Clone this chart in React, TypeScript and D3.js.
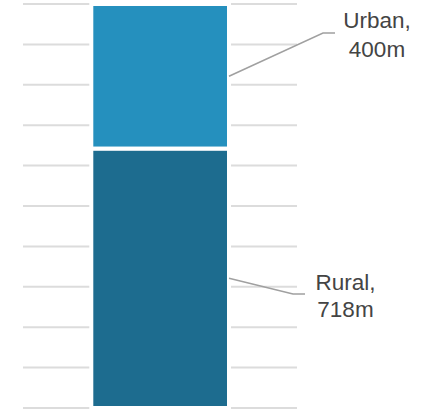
import React from "react";
import * as d3 from "d3";

const categories = ["Rural", "Urban"];
const values = [718, 400];
const valueLabels = ["718m", "400m"];
const gridDivisions = 10;

const W = 429;
const H = 417;

export default function App() {
  const total = d3.sum(values);
  const y = d3.scaleLinear().domain([0, total]).range([408, 4]);
  const x0 = 91.3;
  const x1 = 229;
  const stacked = values.map((v, i) => {
    const start = d3.sum(values.slice(0, i));
    return { cat: categories[i], v, start, end: start + v, label: valueLabels[i] };
  });
  const colors = ["#1d6c8f", "#2590be"];
  const grid = d3.range(gridDivisions + 1).map((i) => (total * i) / gridDivisions);
  const labelLayout = [
    { ex: 293, ey: 294, hx: 305, tx: 345.5, b1: 290, b2: 317 },
    { ex: 323, ey: 33, hx: 335, tx: 377, b1: 28, b2: 57 },
  ];
  return (
    <svg
      width={W}
      height={H}
      style={{ position: "absolute", left: 0, top: 0 }}
      fontFamily="'Liberation Sans', Arial, sans-serif"
    >
      <rect width={W} height={H} fill="#fff" />
      {grid.map((g, i) => (
        <line key={i} x1={23} x2={297} y1={y(g)} y2={y(g)} stroke="#dcdcdc" strokeWidth={2} />
      ))}
      {stacked.map((s, i) => (
        <rect
          key={s.cat}
          x={x0}
          width={x1 - x0}
          y={y(s.end)}
          height={y(s.start) - y(s.end)}
          fill={colors[i]}
          stroke="#fff"
          strokeWidth={4}
        />
      ))}
      {stacked.map((s, i) => {
        const L = labelLayout[i];
        const my = y((s.start + s.end) / 2);
        return (
          <g key={s.cat}>
            <polyline
              points={`${x1},${my} ${L.ex},${L.ey} ${L.hx},${L.ey}`}
              fill="none"
              stroke="#a0a0a0"
              strokeWidth={1.5}
            />
            <text x={L.tx} y={L.b1} textAnchor="middle" fontSize={22.5} fill="#444">
              {s.cat + ","}
            </text>
            <text x={L.tx} y={L.b2} textAnchor="middle" fontSize={22.5} fill="#444">
              {s.label}
            </text>
          </g>
        );
      })}
    </svg>
  );
}
